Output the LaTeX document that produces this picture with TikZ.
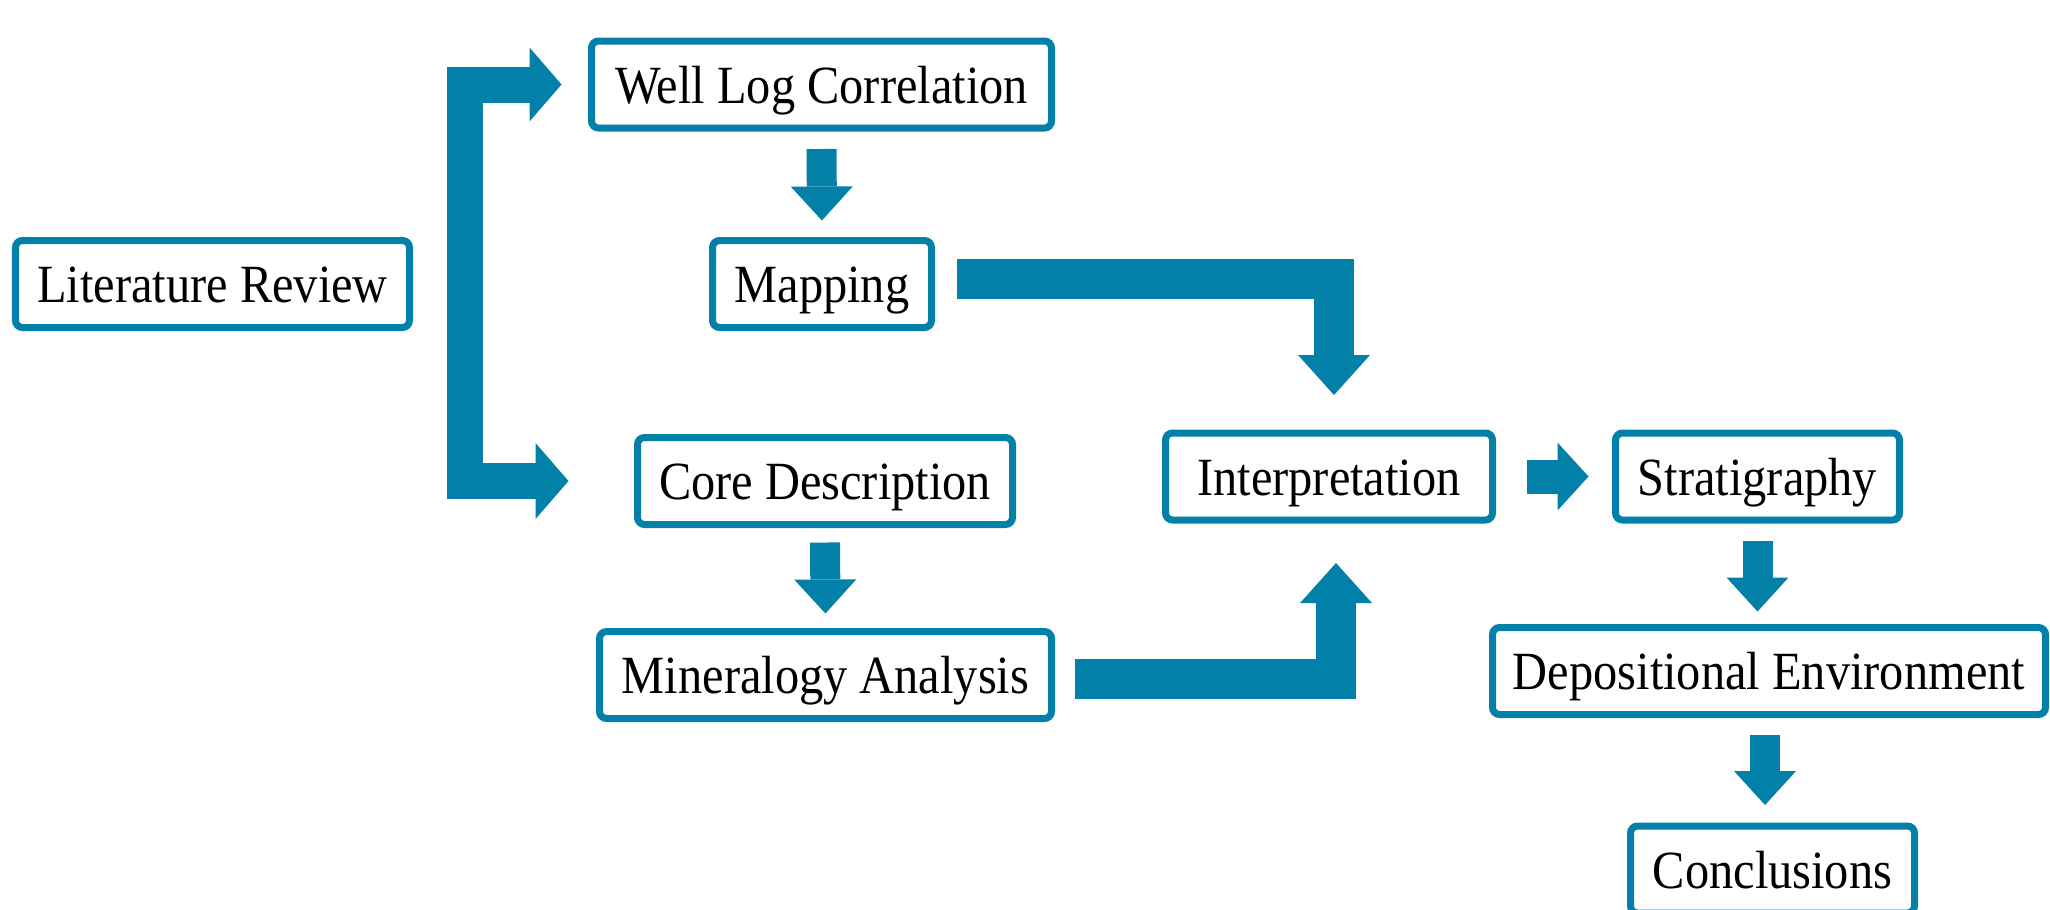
\documentclass[tikz,border=0pt]{standalone}
\usepackage{fontspec}
\setmainfont{Liberation Serif}[FakeStretch=0.9]
\usepackage{xcolor}
\usetikzlibrary{arrows.meta,calc}
\definecolor{clrFlow}{HTML}{0380A7}
\tikzset{
  stepbox/.style={rectangle, rounded corners=2pt, line width=0.07cm,
    draw=clrFlow, fill=white, minimum height=0.87cm, inner sep=0pt,
    text height=0.52cm, text depth=0.15cm,
    align=center, font=\fontsize{15.3}{17}\selectfont},
  fatdown/.style={-{Triangle[length=0.34cm, width=0.62cm, line width=0pt]},
    line width=0.30cm, draw=clrFlow},
  fatright/.style={-{Triangle[length=0.31cm, width=0.68cm, line width=0pt]},
    line width=0.34cm, draw=clrFlow},
  elbow/.style={-{Triangle[length=0.40cm, width=0.72cm, line width=0pt]},
    line width=0.40cm, draw=clrFlow, line join=miter},
  bracket/.style={{Triangle[length=0.32cm, width=0.74cm, line width=0pt]}-{Triangle[length=0.33cm, width=0.76cm, line width=0pt]},
    line width=0.36cm, draw=clrFlow, line join=miter},
}

\begin{document}
\begin{tikzpicture}

\def\yA{-0.845}  % Well Log Correlation
\def\yB{-2.84}   % Literature Review, Mapping
\def\yC{-4.79}   % Core, Interpretation, Stratigraphy
\def\yD{-6.72}   % Mineralogy, Depositional Environment

\useasboundingbox (0,0) rectangle (20.5,-9.09);
\clip (0,0) rectangle (20.5,-9.09);

\node[stepbox, minimum width=3.94cm] (lit) at (2.125, \yB) {Literature Review};
\node[stepbox, minimum width=4.60cm] (wlc) at (8.215, \yA) {Well Log Correlation};
\node[stepbox, minimum width=2.19cm] (map) at (8.22, \yB) {Mapping};
\node[stepbox, minimum width=3.75cm] (core) at (8.25, -4.81) {Core Description};
\node[stepbox, minimum width=4.52cm] (min) at (8.255, -6.75) {Mineralogy Analysis};
\node[stepbox, minimum width=3.27cm] (interp) at (13.29, -4.765) {Interpretation};
\node[stepbox, minimum width=2.84cm] (strat) at (17.575, -4.765) {Stratigraphy};
\node[stepbox, minimum width=5.53cm] (dep) at (17.69, -6.71) {Depositional Environment};
\node[stepbox, minimum width=2.84cm] (conc) at (17.725, -8.695) {Conclusions};

% Klammer links: verzweigt auf beide Analysewege
\coordinate (brk) at (4.645, \yB);
\draw[bracket, shorten <=0.265cm, shorten >=0.655cm]
  (wlc.west) -| (brk) |- (core.west);

\draw[fatdown, shorten <=0.175cm, shorten >=0.165cm] (wlc.south) -- (map.north);
\draw[fatdown, shorten <=0.145cm, shorten >=0.145cm] (core.south) -- (min.north);

% Winkelpfeile in die Interpretation
\draw[elbow, shorten <=0.215cm, shorten >=0.345cm]
  ([yshift=0.05cm]map.east) -| ([xshift=0.05cm]interp.north);
\draw[elbow, shorten <=0.195cm, shorten >=0.395cm]
  ([yshift=-0.04cm]min.east) -| ([xshift=0.07cm]interp.south);

\draw[fatright, shorten <=0.305cm, shorten >=0.235cm] (interp.east) -- (strat.west);
\draw[fatdown, shorten <=0.175cm, shorten >=0.125cm] (strat.south) -- (strat.south |- dep.north);
\draw[fatdown, shorten <=0.165cm, shorten >=0.175cm] ([xshift=-0.04cm]dep.south) -- ([xshift=-0.04cm]dep.south |- conc.north);

\end{tikzpicture}
\end{document}
